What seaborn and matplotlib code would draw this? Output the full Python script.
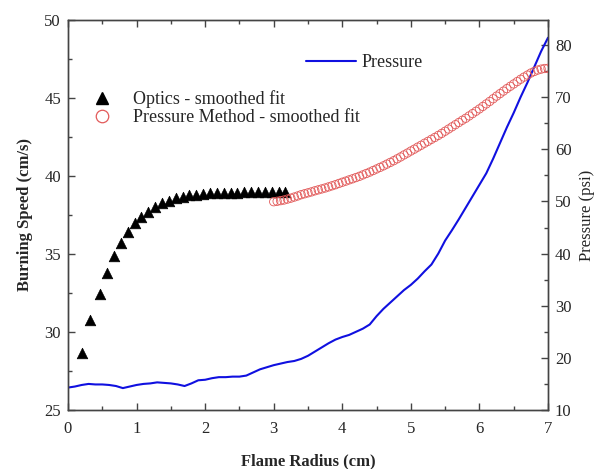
import numpy as np
import pandas as pd
import matplotlib
matplotlib.use("Agg")
import matplotlib.pyplot as plt
from matplotlib.lines import Line2D
from matplotlib.ticker import MultipleLocator
import seaborn as sns

# ---------------- data ----------------
optics_r = [0.20, 0.32, 0.46, 0.57, 0.67, 0.77, 0.87, 0.97, 1.07, 1.17,
            1.27, 1.37, 1.47, 1.57, 1.67, 1.77, 1.87, 1.97, 2.07, 2.17,
            2.27, 2.37, 2.47, 2.57, 2.67, 2.77, 2.87, 2.97, 3.07, 3.17]
optics_s = [28.65, 30.77, 32.44, 33.80, 34.87, 35.68, 36.38, 36.96, 37.39, 37.71,
            37.99, 38.25, 38.42, 38.57, 38.67, 38.75, 38.81, 38.85, 38.88, 38.90,
            38.92, 38.93, 38.94, 38.95, 38.95, 38.96, 38.96, 38.96, 38.97, 38.97]

pm_r = [3.00, 3.05, 3.10, 3.15, 3.20, 3.25, 3.30, 3.35, 3.40, 3.45,
        3.50, 3.55, 3.60, 3.65, 3.70, 3.75, 3.80, 3.85, 3.90, 3.95,
        4.00, 4.05, 4.10, 4.15, 4.20, 4.25, 4.30, 4.35, 4.40, 4.45,
        4.50, 4.55, 4.60, 4.65, 4.70, 4.75, 4.80, 4.85, 4.90, 4.95,
        5.00, 5.05, 5.10, 5.15, 5.20, 5.25, 5.30, 5.35, 5.40, 5.45,
        5.50, 5.55, 5.60, 5.65, 5.70, 5.75, 5.80, 5.85, 5.90, 5.95,
        6.00, 6.05, 6.10, 6.15, 6.20, 6.25, 6.30, 6.35, 6.40, 6.45,
        6.50, 6.55, 6.60, 6.65, 6.70, 6.75, 6.80, 6.85, 6.90, 6.95, 7.00]
pm_s = [38.35, 38.38, 38.42, 38.46, 38.52, 38.58, 38.65, 38.72, 38.80, 38.86,
        38.92, 38.98, 39.05, 39.11, 39.17, 39.23, 39.30, 39.37, 39.44, 39.52,
        39.60, 39.67, 39.75, 39.82, 39.90, 39.98, 40.07, 40.16, 40.25, 40.35,
        40.45, 40.55, 40.65, 40.76, 40.87, 40.98, 41.10, 41.22, 41.35, 41.47,
        41.60, 41.72, 41.85, 41.97, 42.10, 42.22, 42.35, 42.47, 42.60, 42.73,
        42.87, 43.01, 43.15, 43.29, 43.43, 43.57, 43.70, 43.85, 44.00, 44.15,
        44.30, 44.46, 44.62, 44.78, 44.95, 45.12, 45.28, 45.44, 45.60, 45.75,
        45.90, 46.05, 46.20, 46.34, 46.47, 46.60, 46.70, 46.79, 46.85, 46.89, 46.90]

p_r = [0.0, 0.1, 0.2, 0.3, 0.4, 0.5, 0.6, 0.7, 0.8, 0.9,
       1.0, 1.1, 1.2, 1.3, 1.4, 1.5, 1.6, 1.7, 1.8, 1.9,
       2.0, 2.1, 2.2, 2.3, 2.4, 2.5, 2.6, 2.7, 2.8, 2.9,
       3.0, 3.1, 3.2, 3.3, 3.4, 3.5, 3.6, 3.7, 3.8, 3.9,
       4.0, 4.1, 4.2, 4.3, 4.4, 4.5, 4.6, 4.7, 4.8, 4.9,
       5.0, 5.1, 5.2, 5.3, 5.4, 5.5, 5.6, 5.7, 5.8, 5.9,
       6.0, 6.1, 6.2, 6.3, 6.4, 6.5, 6.6, 6.7, 6.8, 6.9, 7.0]
p_psi = [14.3, 14.5, 14.8, 15.0, 14.9, 14.9, 14.8, 14.6, 14.2, 14.5,
         14.8, 15.0, 15.1, 15.3, 15.2, 15.1, 14.9, 14.6, 15.1, 15.7,
         15.8, 16.1, 16.3, 16.3, 16.4, 16.4, 16.6, 17.2, 17.8, 18.2,
         18.6, 18.9, 19.2, 19.4, 19.8, 20.4, 21.2, 22.0, 22.8, 23.5,
         24.0, 24.4, 25.0, 25.6, 26.4, 28.0, 29.4, 30.6, 31.8, 33.0,
         34.0, 35.2, 36.6, 37.9, 40.0, 42.5, 44.5, 46.6, 48.8, 51.0,
         53.2, 55.4, 58.2, 61.2, 64.2, 67.0, 70.0, 72.8, 75.8, 78.8, 81.4]

x_ticks = [0, 1, 2, 3, 4, 5, 6, 7]
left_ticks = [25, 30, 35, 40, 45, 50]
right_ticks = [10, 20, 30, 40, 50, 60, 70, 80]

# ---------------- style ----------------
sns.set_style("ticks")
plt.rcParams["font.family"] = ["Liberation Serif", "DejaVu Serif"]

fig = plt.figure(figsize=(5.98, 4.69), dpi=100)
ax = fig.add_axes([0.1137, 0.1258, 0.8027, 0.8316])
ax2 = ax.twinx()

df_o = pd.DataFrame({"r": optics_r, "s": optics_s})
df_p = pd.DataFrame({"r": pm_r, "s": pm_s})
df_pr = pd.DataFrame({"r": p_r, "p": p_psi})

sns.lineplot(data=df_pr, x="r", y="p", ax=ax2, color="#1010e0", lw=1.5,
             legend=False, zorder=1)
sns.scatterplot(data=df_o, x="r", y="s", ax=ax, marker="^", s=58,
                color="black", edgecolor="black", linewidth=0.5, legend=False, zorder=3)
sns.scatterplot(data=df_p, x="r", y="s", ax=ax, marker="o", s=36,
                facecolor="none", edgecolor="#e25a5a", linewidth=0.6, legend=False, zorder=3)

ax.set_zorder(ax2.get_zorder() + 1)
ax.patch.set_visible(False)

ax.set_xlim(0, 7)
ax.set_ylim(25, 50)
ax2.set_ylim(10, 84.8)
ax.set_xticks(x_ticks)
ax.set_yticks(left_ticks)
ax2.set_yticks(right_ticks)
ax.xaxis.set_minor_locator(MultipleLocator(0.5))
ax.yaxis.set_minor_locator(MultipleLocator(2.5))
ax2.yaxis.set_minor_locator(MultipleLocator(5))

spine_c = "#444444"
for a in (ax, ax2):
    for sp in a.spines.values():
        sp.set_visible(True)
        sp.set_color(spine_c)
        sp.set_linewidth(1.0)
ax.tick_params(axis="both", which="major", direction="in", length=5, width=1,
               color=spine_c, labelsize=12, pad=5, top=True, right=False)
ax.tick_params(axis="both", which="minor", direction="in", length=3, width=1,
               color=spine_c, top=True, right=False)
ax.tick_params(axis="x", pad=8)
ax2.tick_params(axis="y", which="major", direction="in", length=5, width=1,
                color=spine_c, labelsize=12, pad=5)
ax2.tick_params(axis="y", which="minor", direction="in", length=3, width=1,
                color=spine_c)

ax.set_xlabel("Flame Radius (cm)", fontsize=12, fontweight="bold", labelpad=12)
ax.set_ylabel("Burning Speed (cm/s)", fontsize=12, fontweight="bold", labelpad=8)
ax2.set_ylabel("Pressure (psi)", fontsize=12)
ax2.yaxis.set_label_coords(1.064, 0.5)

h1 = [Line2D([], [], ls="none", marker="^", ms=9, color="black"),
      Line2D([], [], ls="none", marker="o", ms=9, mfc="none", mec="#e25a5a", mew=0.9)]
leg1 = ax.legend(h1, ["Optics - smoothed fit", "Pressure Method - smoothed fit"],
                 loc="upper left", bbox_to_anchor=(0.053, 0.82), frameon=False,
                 fontsize=13, handlelength=1.0, handletextpad=1.18,
                 labelspacing=0.05, borderpad=0, borderaxespad=0)
ax.add_artist(leg1)
h2 = [Line2D([], [], color="#1010e0", lw=1.5)]
ax.legend(h2, ["Pressure"], loc="upper left", bbox_to_anchor=(0.495, 0.912),
          frameon=False, fontsize=13, handlelength=2.8, handletextpad=0.3,
          borderpad=0, borderaxespad=0)

fig.savefig("out.png", dpi=100)
